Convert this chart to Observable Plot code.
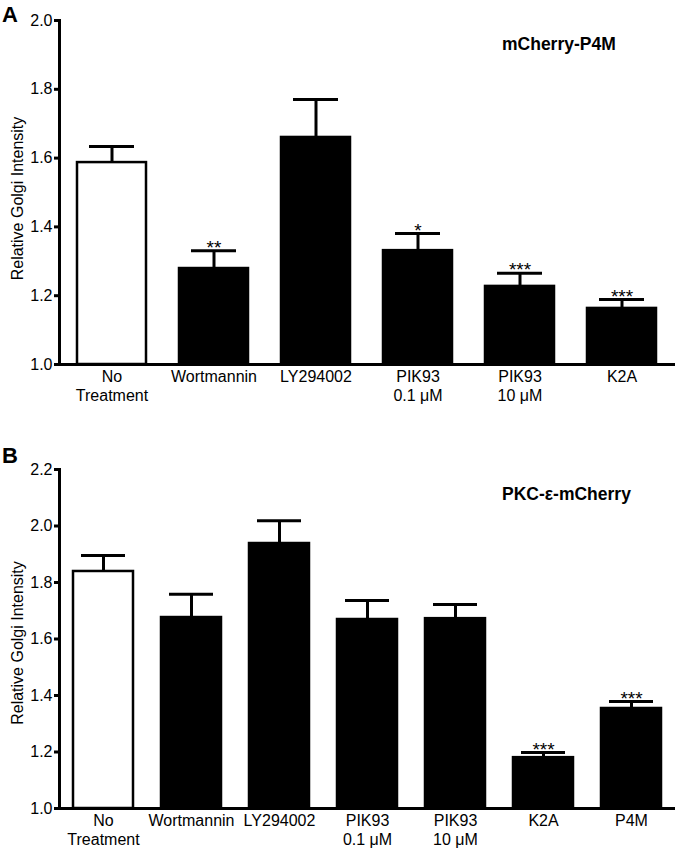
<!DOCTYPE html>
<html>
<head>
<meta charset="utf-8">
<script src="https://cdn.jsdelivr.net/npm/d3@7"></script>
<script src="https://cdn.jsdelivr.net/npm/@observablehq/plot@0.6"></script>
<style>
  body { margin: 0; background: #fff; }
  #wrap { position: relative; width: 679px; height: 851px; font-family: "Liberation Sans", Arial, sans-serif; }
  .panel { position: absolute; left: 0; }
  .lbl { position: absolute; font-weight: bold; line-height: 1; color: #000; white-space: nowrap; z-index: 2; }
</style>
</head>
<body>
<div id="wrap">
  <div id="pa" class="panel" style="top:0px;"></div>
  <div id="pb" class="panel" style="top:430px;"></div>
  <div class="lbl" style="left:2px; top:4px; font-size:22px;">A</div>
  <div class="lbl" style="left:2px; top:445px; font-size:22px;">B</div>
  <div class="lbl" style="left:502px; top:36px; font-size:17.5px;">mCherry-P4M</div>
  <div class="lbl" style="left:502px; top:486px; font-size:17.5px;">PKC-ε-mCherry</div>
</div>
<script>
// Panel A data
const catsA = ["No\nTreatment", "Wortmannin", "LY294002", "PIK93\n0.1 μM", "PIK93\n10 μM", "K2A"];
const meansA = [1.587, 1.279, 1.660, 1.331, 1.227, 1.163];
const errA = [0.047, 0.052, 0.110, 0.050, 0.038, 0.026];
const sigA = ["", "**", "", "*", "***", "***"];
const ticksA = [1.0, 1.2, 1.4, 1.6, 1.8, 2.0];

// Panel B data
const catsB = ["No\nTreatment", "Wortmannin", "LY294002", "PIK93\n0.1 μM", "PIK93\n10 μM", "K2A", "P4M"];
const meansB = [1.839, 1.676, 1.938, 1.669, 1.672, 1.180, 1.354];
const errB = [0.057, 0.082, 0.081, 0.067, 0.050, 0.018, 0.025];
const sigB = ["", "", "", "", "", "***", "***"];
const ticksB = [1.0, 1.2, 1.4, 1.6, 1.8, 2.0, 2.2];

const yLabel = "Relative Golgi Intensity";
const font = "Liberation Sans, Arial, sans-serif";

function panel(cats, means, errs, sigs, ticks, yMax, opts) {
  const data = cats.map((c, i) => ({cat: c, mean: means[i], top: means[i] + errs[i], sig: sigs[i], i}));
  return Plot.plot({
    width: 679,
    height: opts.height,
    marginLeft: 59,
    marginRight: 4,
    marginTop: opts.marginTop,
    marginBottom: opts.marginBottom,
    style: {fontFamily: font, fontSize: "16px", color: "#000", background: "white"},
    x: {domain: cats, paddingInner: 0.32, paddingOuter: 0.16, align: 0.5},
    y: {domain: [1, yMax]},
    marks: [
      Plot.ruleX(data, {x: "cat", y1: "mean", y2: "top", stroke: "black", strokeWidth: 3}),
      Plot.tickY(data, {x: "cat", y: "top", stroke: "black", strokeWidth: 3, insetLeft: opts.capInset, insetRight: opts.capInset}),
      Plot.barY(data, {x: "cat", y1: 1, y2: "mean", fill: d => d.i === 0 ? "white" : "black", stroke: "black", strokeWidth: 2.5}),
      Plot.text(data.filter(d => d.sig), {x: "cat", y: "top", text: "sig", fontSize: 19, lineAnchor: "middle", dy: -3, fill: "black"}),
      Plot.axisY({ticks: ticks, tickFormat: d3.format(".1f"), tickSize: 5, tickPadding: 2, strokeWidth: 3, label: null, fontSize: 16}),
      Plot.text([yLabel], {frameAnchor: "left", rotate: -90, dx: -42, dy: opts.labelDy, fontSize: 16, fill: "black", textAnchor: "middle"}),
      Plot.axisX({tickSize: 0, tickPadding: opts.xPad, lineHeight: 1.19, label: null, fontSize: 16}),
      Plot.ruleY([1], {stroke: "black", strokeWidth: 3}),
      Plot.frame({anchor: "left", stroke: "black", strokeWidth: 3})
    ]
  });
}

document.getElementById("pa").appendChild(
  panel(catsA, meansA, errA, sigA, ticksA, 2.0, {height: 425, marginTop: 20, marginBottom: 61, capInset: 12, xPad: 4, labelDy: 6})
);
document.getElementById("pb").appendChild(
  panel(catsB, meansB, errB, sigB, ticksB, 2.2, {height: 421, marginTop: 39, marginBottom: 43, capInset: 8, xPad: 4, labelDy: 4})
);
</script>
</body>
</html>
